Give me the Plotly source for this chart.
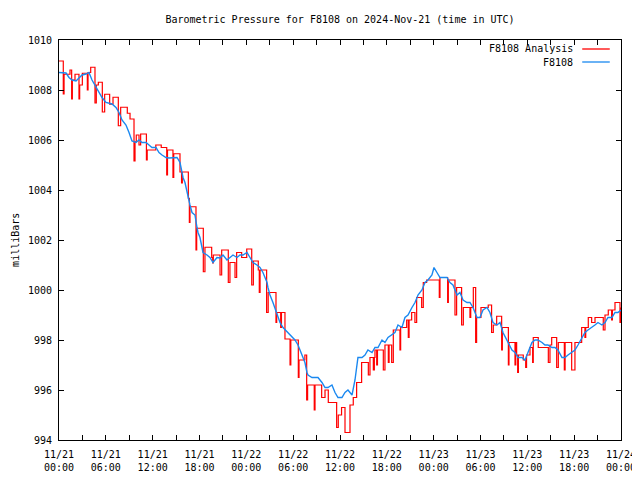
import pandas as pd
import plotly.graph_objects as go

# ---------------- data ----------------
start = "2024-11-21 00:00"

# F8108 observations (hours since start, millibars)
obs_hours = [0.00, 0.90, 1.28, 1.67, 2.18, 2.56, 2.95, 3.46, 3.84, 4.23, 4.74, 5.12, 5.51, 6.02, 6.79, 7.30,
             7.69, 8.07, 8.58, 8.97, 9.35, 9.86, 10.25, 10.63, 11.15, 11.53, 11.91, 12.43, 12.81, 13.20, 13.71,
             14.09, 14.73, 15.12, 15.50, 15.76, 15.89, 16.14, 16.40, 16.53, 16.78, 17.04, 17.42, 17.68, 17.81,
             18.06, 18.32, 18.45, 18.96, 19.34, 19.73, 20.24, 20.63, 21.01, 21.52, 21.91, 22.29, 22.80, 23.19,
             23.57, 24.08, 24.47, 24.85, 25.36, 25.75, 26.13, 26.65, 26.77, 27.03, 27.41, 27.93, 28.31, 28.70,
             29.34, 29.85, 30.23, 30.62, 31.13, 31.51, 31.77, 31.90, 32.41, 32.80, 33.18, 33.69, 34.08, 34.46,
             34.97, 35.36, 35.74, 36.25, 36.64, 37.02, 37.54, 37.92, 38.18, 38.30, 38.82, 39.20, 39.58, 40.10,
             40.48, 40.87, 41.38, 41.76, 42.15, 42.66, 43.04, 43.43, 43.94, 44.32, 44.71, 45.22, 45.61, 45.99,
             46.50, 46.89, 47.27, 47.78, 48.04, 48.42, 48.81, 49.19, 49.71, 50.09, 50.47, 50.99, 51.37, 51.76,
             52.27, 52.65, 53.04, 53.55, 53.93, 54.32, 54.83, 55.21, 55.60, 56.11, 56.50, 56.88, 57.39, 57.78,
             58.03, 58.42, 58.80, 59.31, 59.70, 60.08, 60.59, 60.98, 61.36, 61.88, 62.26, 62.64, 63.16, 63.54,
             63.92, 64.44, 64.82, 65.21, 65.72, 66.10, 66.49, 67.00, 67.38, 67.77, 68.28, 68.66, 69.05, 69.56,
             69.95, 70.33, 70.84, 71.23, 71.61, 72.00]
obs_mb = [1008.70, 1008.68, 1008.50, 1008.40, 1008.36, 1008.50, 1008.60, 1008.64, 1008.70, 1008.40, 1008.10,
          1007.90, 1007.70, 1007.50, 1007.44, 1007.30, 1007.10, 1006.80, 1006.60, 1006.30, 1005.96, 1005.90,
          1006.00, 1005.90, 1005.90, 1005.80, 1005.70, 1005.70, 1005.50, 1005.40, 1005.30, 1005.28, 1005.30,
          1005.30, 1005.10, 1004.70, 1004.50, 1004.30, 1003.90, 1003.70, 1003.40, 1003.10, 1003.00, 1002.50,
          1002.30, 1002.10, 1001.70, 1001.50, 1001.40, 1001.30, 1001.10, 1001.30, 1001.28, 1001.40, 1001.20,
          1001.30, 1001.40, 1001.30, 1001.40, 1001.40, 1001.50, 1001.30, 1001.10, 1001.00, 1000.90, 1000.70,
          1000.30, 1000.10, 999.80, 999.50, 999.00, 998.70, 998.50, 998.30, 998.10, 998.00, 997.80, 997.40,
          997.10, 996.70, 996.60, 996.50, 996.50, 996.50, 996.30, 996.10, 996.10, 996.20, 995.90, 995.70,
          995.70, 995.90, 996.00, 995.80, 996.40, 996.90, 997.30, 997.30, 997.40, 997.60, 997.50, 997.70,
          997.70, 998.00, 997.90, 998.10, 998.20, 998.30, 998.60, 998.50, 998.90, 999.00, 999.30, 999.50,
          999.80, 1000.00, 1000.30, 1000.40, 1000.60, 1000.90, 1000.70, 1000.50, 1000.50, 1000.50, 1000.30,
          1000.20, 999.80, 999.90, 999.60, 999.50, 999.50, 999.30, 998.90, 998.90, 999.20, 999.30, 999.10,
          998.70, 998.60, 998.70, 998.30, 998.00, 997.80, 997.60, 997.50, 997.30, 997.30, 997.20, 997.50,
          997.90, 998.00, 998.00, 997.90, 997.80, 997.80, 997.70, 997.70, 997.60, 997.30, 997.30, 997.40,
          997.50, 997.60, 997.80, 998.10, 998.30, 998.40, 998.50, 998.60, 998.70, 998.60, 998.70, 998.90,
          998.90, 999.10, 999.10, 999.20]

# F8108 Analysis (hours since start, millibars) - stepped series
ana_hours = [0.00, 0.55, 0.65, 1.41, 1.62, 1.71, 2.05, 2.56, 2.65, 2.99, 3.63, 3.72, 4.06, 4.61, 4.78, 5.04,
             5.55, 5.85, 6.49, 6.92, 7.60, 7.90, 8.75, 9.10, 9.61, 9.74, 9.90, 10.25, 10.46, 11.20, 11.30,
             12.40, 13.10, 13.80, 13.90, 14.60, 14.70, 15.50, 15.70, 15.80, 16.57, 16.70, 16.78, 17.55, 17.64,
             18.49, 18.70, 19.56, 19.69, 19.77, 20.63, 20.84, 21.69, 21.90, 22.55, 22.76, 23.40, 24.05, 24.69,
             24.90, 25.53, 25.66, 25.76, 26.60, 26.80, 27.80, 27.89, 28.40, 28.50, 28.95, 29.60, 29.70, 30.66,
             30.75, 31.50, 31.73, 31.85, 32.70, 32.80, 33.65, 34.08, 34.50, 35.57, 35.78, 36.20, 36.64, 37.28,
             37.70, 38.13, 38.77, 39.63, 39.84, 40.27, 40.40, 40.48, 40.70, 40.80, 41.55, 41.76, 42.19, 42.29,
             42.62, 42.83, 43.68, 43.77, 44.54, 44.75, 44.85, 45.18, 45.60, 45.82, 46.46, 46.67, 47.10, 48.72,
             48.81, 49.79, 49.88, 50.73, 50.94, 51.58, 51.80, 52.65, 52.75, 53.08, 53.38, 53.50, 54.06, 54.99,
             55.42, 55.64, 56.07, 56.71, 56.80, 57.57, 57.65, 58.42, 58.52, 58.63, 58.76, 58.86, 59.48, 59.79,
             59.90, 60.34, 60.68, 60.76, 61.40, 62.69, 62.90, 63.12, 63.76, 63.97, 64.74, 64.84, 65.68, 66.10,
             66.96, 67.38, 67.48, 67.81, 68.24, 68.67, 69.73, 69.95, 70.37, 70.80, 70.90, 71.23, 71.87, 72.00]
ana_mb = [1009.16, 1007.84, 1008.63, 1008.80, 1007.64, 1008.40, 1008.63, 1007.64, 1008.20, 1008.67, 1008.00,
          1008.70, 1008.91, 1007.48, 1008.20, 1008.31, 1007.12, 1007.83, 1007.43, 1007.71, 1006.57, 1007.31,
          1007.07, 1006.84, 1005.16, 1005.93, 1006.20, 1005.80, 1006.24, 1005.20, 1005.60, 1005.80, 1005.70,
          1004.60, 1005.60, 1004.50, 1005.45, 1004.72, 1004.28, 1004.72, 1003.67, 1002.70, 1003.33, 1001.60,
          1002.47, 1000.73, 1001.71, 1001.30, 1001.08, 1001.40, 1000.60, 1001.60, 1000.30, 1001.10, 1000.50,
          1001.50, 1001.30, 1001.64, 1000.20, 1001.16, 1000.80, 999.90, 1000.80, 999.10, 999.90, 998.70,
          999.10, 998.50, 999.10, 998.04, 997.00, 998.00, 996.50, 997.20, 997.40, 995.60, 996.20, 995.20,
          996.20, 995.70, 996.00, 995.50, 994.50, 995.00, 995.30, 994.30, 995.40, 995.70, 996.30, 997.10,
          996.60, 997.30, 996.80, 997.30, 997.60, 997.00, 997.60, 996.80, 997.80, 997.10, 997.80, 997.10,
          998.40, 997.60, 998.50, 998.80, 998.10, 998.80, 999.10, 998.70, 999.70, 999.30, 1000.30, 1000.40,
          999.70, 1000.50, 999.50, 1000.40, 999.00, 1000.10, 998.60, 999.30, 998.90, 999.30, 1000.10, 997.90,
          998.90, 999.30, 999.40, 998.30, 998.60, 998.95, 997.60, 998.50, 997.00, 997.90, 997.00, 997.90,
          997.40, 996.70, 997.40, 997.20, 996.90, 997.40, 997.70, 997.10, 998.10, 997.70, 997.10, 997.80,
          998.10, 996.90, 997.90, 996.80, 997.90, 996.80, 997.90, 998.50, 998.10, 998.50, 998.90, 998.70,
          998.90, 998.40, 999.00, 999.20, 998.80, 999.20, 999.50, 998.70, 999.30]

tick_hours = list(range(0, 73, 3))
y_ticks = [994, 996, 998, 1000, 1002, 1004, 1006, 1008, 1010]

title_text = "Barometric Pressure for F8108 on 2024-Nov-21 (time in UTC)"
y_title = "milliBars"
ana_name = "F8108 Analysis"
obs_name = "F8108"
ana_color = "#ff0000"
obs_color = "#1a88f0"

# ---------------- build ----------------
t0 = pd.Timestamp(start)
obs_t = t0 + pd.to_timedelta(obs_hours, unit="h")
ana_t = t0 + pd.to_timedelta(ana_hours, unit="h")
tick_t = [t0 + pd.Timedelta(hours=h) for h in tick_hours]
tick_txt = [(t.strftime("%m/%d") + "<br>" + t.strftime("%H:%M")) if h % 6 == 0 else "" for h, t in zip(tick_hours, tick_t)]

FONT = "DejaVu Sans Mono"
FIG_W, FIG_H = 632, 472   # page body has an 8px margin inside the 640x480 window

fig = go.Figure()
fig.add_trace(go.Scatter(x=ana_t, y=ana_mb, mode="lines", line=dict(color=ana_color, width=1.2, shape="hv"),
                         name=ana_name, showlegend=False))
fig.add_trace(go.Scatter(x=obs_t, y=obs_mb, mode="lines", line=dict(color=obs_color, width=1.4),
                         name=obs_name, showlegend=False))

axis_common = dict(showgrid=False, zeroline=False, showline=True, linecolor="black", linewidth=1,
                   mirror="ticks", ticks="inside", ticklen=5, tickcolor="black", tickwidth=1,
                   automargin=False,
                   tickfont=dict(family=FONT, size=10, color="black"))

fig.update_xaxes(range=[tick_t[0], tick_t[-1]], tickmode="array", tickvals=tick_t, ticktext=tick_txt,
                 ticklabelstandoff=5, **axis_common)
fig.update_yaxes(range=[994, 1010], tickmode="array", tickvals=y_ticks, ticktext=[str(v) for v in y_ticks],
                 ticklabelstandoff=4, **axis_common)

# legend drawn gnuplot-style (text right, sample line after it)
leg_rows = [(ana_name, ana_color, 0.9775), (obs_name, obs_color, 0.945)]
for name, col, yy in leg_rows:
    fig.add_annotation(x=0.918, y=yy, xref="paper", yref="paper", text=name, showarrow=False,
                       xanchor="right", yanchor="middle", font=dict(family=FONT, size=10, color="black"))
    fig.add_shape(type="line", xref="paper", yref="paper", x0=0.931, x1=0.980, y0=yy, y1=yy,
                  line=dict(color=col, width=1.3))

fig.add_annotation(x=-0.0785, y=0.5, xref="paper", yref="paper", text=y_title, showarrow=False,
                   textangle=-90, xanchor="center", yanchor="middle",
                   font=dict(family=FONT, size=10, color="black"))

fig.update_layout(
    width=FIG_W, height=FIG_H,
    margin=dict(l=51, r=19, t=32, b=40, autoexpand=False),
    paper_bgcolor="white", plot_bgcolor="white",
    title=dict(text=title_text, x=0.5, xref="paper", y=1 - 11 / FIG_H, yref="container",
               xanchor="center", yanchor="middle", font=dict(family=FONT, size=10, color="black")),
    showlegend=False,
)

fig.write_html("out.html")
